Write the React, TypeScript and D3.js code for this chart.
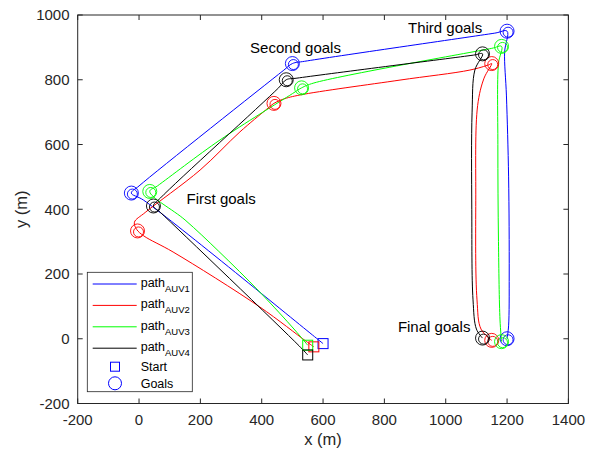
import React from "react";
import * as d3 from "d3";

const xTicks = [-200, 0, 200, 400, 600, 800, 1000, 1200, 1400];
const yTicks = [-200, 0, 200, 400, 600, 800, 1000];

const auvNames = ["AUV1", "AUV2", "AUV3", "AUV4"];
const auvColors = ["#0000ff", "#ff0000", "#00ff00", "#000000"];

const startX = [600, 570, 550, 550];
const startY = [-15, -25, -20, -50];

const goalsAUV1: [number, number][] = [[-25, 450], [500, 850], [1200, 950], [1200, 0]];
const goalsAUV2: [number, number][] = [[-5, 333], [440, 727], [1150, 850], [1150, -5]];
const goalsAUV3: [number, number][] = [[35, 455], [530, 775], [1182, 903], [1182, -9]];
const goalsAUV4: [number, number][] = [[47, 410], [480, 800], [1120, 880], [1120, 2]];

const pathAUV1: [number, number][] = [
  [600, -15], [565, 12], [15, 428], [-25, 450], [0, 472], [470, 828], [500, 850], [540, 857],
  [1160, 944], [1200, 950], [1192, 885], [1198, 750], [1205, 500], [1207, 200], [1205, 40], [1200, 0],
];
const pathAUV2: [number, number][] = [
  [570, -25], [545, -8], [394, 98], [111, 268], [15, 318], [-8, 338], [-15, 360], [20, 390],
  [199, 521], [329, 639], [415, 708], [440, 727], [470, 740], [525, 753], [851, 799], [1079, 830],
  [1140, 846], [1150, 850], [1125, 805], [1104, 720], [1098, 428], [1102, 120], [1115, 30], [1150, -5],
];
const pathAUV3: [number, number][] = [
  [550, -20], [508, 27], [394, 144], [260, 270], [150, 367], [35, 455], [60, 472], [264, 614],
  [500, 757], [530, 775], [570, 790], [1150, 897], [1182, 903], [1172, 850], [1170, 600],
  [1172, 300], [1177, 58], [1182, -9],
];
const pathAUV4: [number, number][] = [
  [550, -50], [522, -22], [70, 390], [47, 410], [70, 435], [455, 775], [480, 800], [515, 805],
  [1090, 876], [1120, 880], [1095, 830], [1086, 700], [1085, 400], [1089, 120], [1100, 30], [1120, 2],
];

const allPaths = [pathAUV1, pathAUV2, pathAUV3, pathAUV4];
const allGoals = [goalsAUV1, goalsAUV2, goalsAUV3, goalsAUV4];

const annotations = [
  { text: "First goals", x: 155, y: 417 },
  { text: "Second goals", x: 362, y: 882 },
  { text: "Third goals", x: 877, y: 943 },
  { text: "Final goals", x: 844, y: 20 },
];

const AX = "#262626";
const FONT = "'Liberation Sans', Arial, Helvetica, sans-serif";

export default function App() {
  const left = 77.7, right = 568.4, top = 15, bottom = 403.5;
  const x = d3.scaleLinear().domain([-200, 1400]).range([left, right]);
  const y = d3.scaleLinear().domain([-200, 1000]).range([bottom, top]);
  const line = d3
    .line<[number, number]>()
    .x((d) => x(d[0]))
    .y((d) => y(d[1]))
    .curve(d3.curveCatmullRom.alpha(0.5));

  const legendRows = [284, 305.4, 326.8, 348.2];
  const lx0 = 92.7, lx1 = 136.7, ltx = 140.7;

  return (
    <svg
      width={601}
      height={452}
      style={{ position: "absolute", left: 0, top: 0, background: "#fff" }}
      fontFamily={FONT}
    >
      <rect x={0} y={0} width={601} height={452} fill="#fff" />
      <rect x={left} y={top} width={right - left} height={bottom - top} fill="#fff" />

      {/* paths */}
      <g clipPath="url(#clip)">
        <defs>
          <clipPath id="clip">
            <rect x={left} y={top} width={right - left} height={bottom - top} />
          </clipPath>
        </defs>
        {allPaths.map((p, i) => (
          <path key={i} d={line(p) || ""} fill="none" stroke={auvColors[i]} strokeWidth={1} />
        ))}
        {allGoals.map((gs, i) =>
          gs.map((g, j) => (
            <g key={`${i}-${j}`}>
              <circle cx={x(g[0])} cy={y(g[1])} r={7} fill="none" stroke={auvColors[i]} strokeWidth={0.9} />
              <circle cx={x(g[0]) + 1} cy={y(g[1]) + 1} r={5} fill="none" stroke={auvColors[i]} strokeWidth={0.9} />
            </g>
          ))
        )}
        {startX.map((sx, i) => (
          <rect
            key={i}
            x={x(sx) - 5}
            y={y(startY[i]) - 5}
            width={10}
            height={10}
            fill="none"
            stroke={auvColors[i]}
            strokeWidth={1}
          />
        ))}
      </g>

      {/* annotations */}
      {annotations.map((a, i) => (
        <text key={i} x={x(a.x)} y={y(a.y)} fontSize={15} fill="#000">
          {a.text}
        </text>
      ))}

      {/* axes box */}
      <rect x={left} y={top} width={right - left} height={bottom - top} fill="none" stroke={AX} strokeWidth={1} />
      {xTicks.map((t) => (
        <g key={`xt${t}`}>
          <line x1={x(t)} x2={x(t)} y1={bottom} y2={bottom - 5} stroke={AX} />
          <line x1={x(t)} x2={x(t)} y1={top} y2={top + 5} stroke={AX} />
          <text x={x(t)} y={424.5} textAnchor="middle" fontSize={15} fill={AX}>
            {t}
          </text>
        </g>
      ))}
      {yTicks.map((t) => (
        <g key={`yt${t}`}>
          <line x1={left} x2={left + 5} y1={y(t)} y2={y(t)} stroke={AX} />
          <line x1={right} x2={right - 5} y1={y(t)} y2={y(t)} stroke={AX} />
          <text x={69.5} y={y(t) + 5.3} textAnchor="end" fontSize={15} fill={AX}>
            {t}
          </text>
        </g>
      ))}
      <text x={(left + right) / 2} y={445} textAnchor="middle" fontSize={16.5} fill={AX}>
        x (m)
      </text>
      <text
        transform={`translate(27,${(top + bottom) / 2}) rotate(-90)`}
        textAnchor="middle"
        fontSize={16.5}
        fill={AX}
      >
        y (m)
      </text>

      {/* legend */}
      <rect x={87.3} y={272.3} width={105} height={119.4} fill="#fff" stroke={AX} strokeWidth={0.8} />
      {auvNames.map((n, i) => (
        <g key={n}>
          <line x1={lx0} x2={lx1} y1={legendRows[i]} y2={legendRows[i]} stroke={auvColors[i]} strokeWidth={1} />
          <text x={ltx} y={legendRows[i] + 2.8} fontSize={12.5} fill="#000">
            path
            <tspan dy={5} fontSize={9.5}>
              {n}
            </tspan>
          </text>
        </g>
      ))}
      <rect x={110.5} y={362.2} width={9} height={9} fill="none" stroke="#0000ff" strokeWidth={1} />
      <text x={ltx} y={371.3} fontSize={12.5} fill="#000">
        Start
      </text>
      <circle cx={115} cy={383.3} r={6.5} fill="none" stroke="#0000ff" strokeWidth={1} />
      <text x={ltx} y={388} fontSize={12.5} fill="#000">
        Goals
      </text>
    </svg>
  );
}
